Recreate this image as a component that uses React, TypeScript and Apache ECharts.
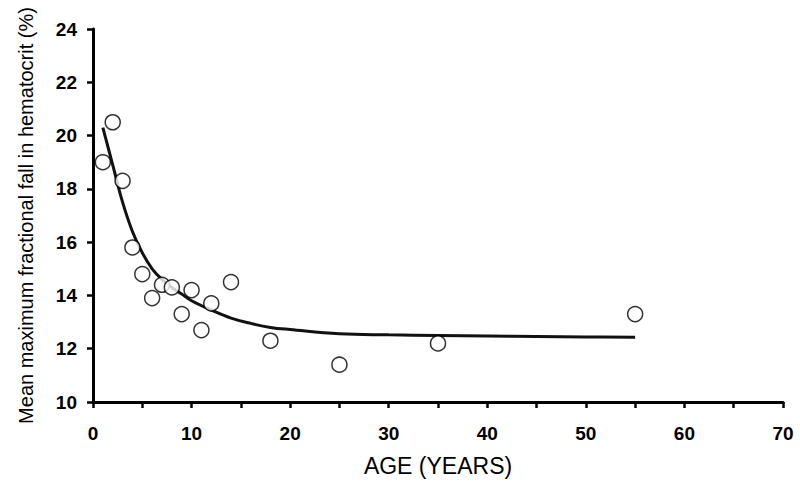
import React, { useEffect, useRef } from "react";
import * as echarts from "echarts";

const ages = [1, 2, 3, 4, 5, 6, 7, 8, 9, 10, 11, 12, 14, 18, 25, 35, 55];
const falls = [19.0, 20.5, 18.3, 15.8, 14.8, 13.9, 14.4, 14.3, 13.3, 14.2, 12.7, 13.7, 14.5, 12.3, 11.4, 12.2, 13.3];

const curveX = [1, 2, 3, 4, 5, 6, 7, 8, 9, 10, 12, 14, 16, 18, 20, 25, 30, 35, 40, 45, 50, 55];
const curveY = [20.3, 18.9, 17.5, 16.4, 15.6, 15.0, 14.6, 14.3, 14.05, 13.8, 13.45, 13.15, 12.95, 12.8, 12.72, 12.56, 12.52, 12.5, 12.48, 12.46, 12.44, 12.43];

const xTitle = "AGE (YEARS)";
const yTitle = "Mean maximum fractional fall in hematocrit (%)";

export default function App() {
  const ref = useRef<HTMLDivElement>(null);
  useEffect(() => {
    if (!ref.current) return;
    const chart = echarts.init(ref.current, null, { renderer: "svg" });
    const font = "'Liberation Sans', Arial, sans-serif";
    chart.setOption({
      animation: false,
      backgroundColor: "#ffffff",
      grid: { left: 93, right: 17, top: 29, bottom: 80 },
      xAxis: {
        type: "value",
        min: 0,
        max: 70,
        interval: 5,
        name: xTitle,
        nameLocation: "middle",
        nameGap: 52,
        nameTextStyle: { fontFamily: font, fontSize: 23, color: "#000" },
        axisLine: { lineStyle: { color: "#000", width: 3 } },
        axisTick: { show: true, length: 6, lineStyle: { color: "#000", width: 2.5 } },
        axisLabel: {
          margin: 22,
          fontFamily: font,
          fontWeight: "bold",
          fontSize: 19,
          color: "#000",
          formatter: (v: number) => (v % 10 === 0 ? String(v) : ""),
        },
        splitLine: { show: false },
      },
      yAxis: {
        type: "value",
        min: 10,
        max: 24,
        interval: 2,
        name: yTitle,
        nameLocation: "middle",
        nameGap: 57,
        nameTextStyle: { fontFamily: font, fontSize: 20, color: "#000" },
        axisLine: { show: true, lineStyle: { color: "#000", width: 3 } },
        axisTick: { show: true, length: 6, lineStyle: { color: "#000", width: 2.5 } },
        axisLabel: {
          margin: 16,
          fontFamily: font,
          fontWeight: "bold",
          fontSize: 19,
          color: "#000",
        },
        splitLine: { show: false },
      },
      series: [
        {
          type: "line",
          data: curveX.map((x, i) => [x, curveY[i]]),
          smooth: 0.4,
          showSymbol: false,
          symbol: "none",
          lineStyle: { color: "#111", width: 3 },
          z: 2,
        },
        {
          type: "scatter",
          data: ages.map((x, i) => [x, falls[i]]),
          symbol: "circle",
          symbolSize: 15,
          itemStyle: { color: "#fff", borderColor: "#000", borderWidth: 1.5 },
          z: 3,
        },
      ],
    });
    return () => chart.dispose();
  }, []);
  return (
    <div
      ref={ref}
      style={{ position: "fixed", left: 0, top: 0, width: 800, height: 482 }}
    />
  );
}
